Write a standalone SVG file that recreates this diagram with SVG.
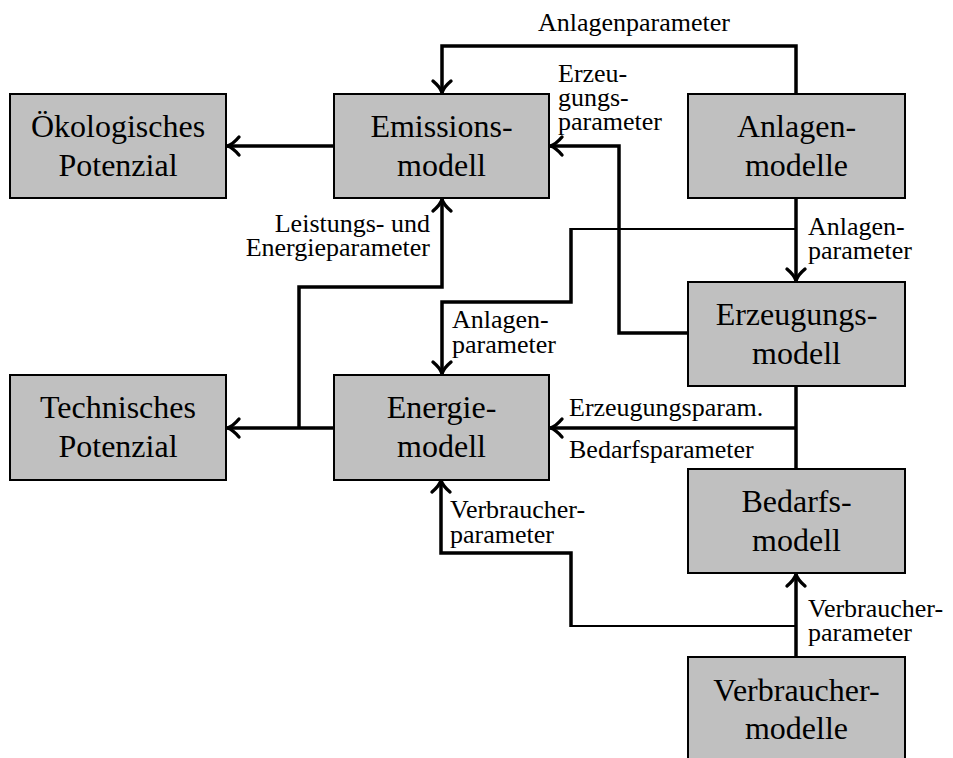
<svg xmlns="http://www.w3.org/2000/svg" width="953" height="758" viewBox="0 0 953 758">
  <defs>
    <style>
      .box { fill: #c0c0c0; stroke: #000; stroke-width: 2; }
      .bt { font-size: 32px; text-anchor: middle; fill: #000; }
      .lb { font-size: 26px; fill: #000; }
      .thick { fill: none; stroke: #000; stroke-width: 3.5; stroke-linejoin: miter; }
      .thin { fill: none; stroke: #000; stroke-width: 2.2; }
      .arrow { marker-end: url(#head); }
    </style>
    <!-- barbed arrowhead, tip at the path end -->
    <marker id="head" viewBox="-16 -12 20 24" refX="0" refY="0" markerWidth="20" markerHeight="24" markerUnits="userSpaceOnUse" orient="auto" overflow="visible">
      <path d="M-13,-9 C-8.5,-3.7 -4,-0.8 -1.5,0 C-4,0.8 -8.5,3.7 -13,9" fill="none" stroke="#000" stroke-width="3.4" stroke-linejoin="round" stroke-linecap="round"/>
    </marker>
  </defs>

  <!-- connectors -->
  <g id="connectors">
    <path class="thick arrow" d="M796,94 V46 H442 V94"/>
    <path class="thick arrow" d="M334,146 H226"/>
    <path class="thick arrow" d="M688,333 H619 V146 H549"/>
    <path class="thick arrow" d="M796,198 V282"/>
    <path class="thin" d="M796,229 H571"/>
    <path class="thick arrow" d="M571,228 V302 H442 V375"/>
    <path class="thick arrow" d="M299,428 V287 H442 V198"/>
    <path class="thick arrow" d="M334,428 H226"/>
    <path class="thick" d="M796,386 V469"/>
    <path class="thick arrow" d="M796,428 H549"/>
    <path class="thick arrow" d="M796,657 V573"/>
    <path class="thin" d="M796,626 H571"/>
    <path class="thick arrow" d="M571,627 V553 H441 V479"/>
  </g>

  <!-- connector labels -->
  <g id="labels">
    <text class="lb" font-family="Liberation Serif, serif" x="538" y="31">Anlagenparameter</text>
    <text class="lb" font-family="Liberation Serif, serif" x="558" y="82">Erzeu-</text>
    <text class="lb" font-family="Liberation Serif, serif" x="558" y="106">gungs-</text>
    <text class="lb" font-family="Liberation Serif, serif" x="558" y="130">parameter</text>
    <text class="lb" font-family="Liberation Serif, serif" x="430" y="232" text-anchor="end">Leistungs- und</text>
    <text class="lb" font-family="Liberation Serif, serif" x="430" y="256" text-anchor="end">Energieparameter</text>
    <text class="lb" font-family="Liberation Serif, serif" x="808" y="235">Anlagen-</text>
    <text class="lb" font-family="Liberation Serif, serif" x="808" y="259">parameter</text>
    <text class="lb" font-family="Liberation Serif, serif" x="452" y="328">Anlagen-</text>
    <text class="lb" font-family="Liberation Serif, serif" x="452" y="353">parameter</text>
    <text class="lb" font-family="Liberation Serif, serif" x="569" y="416">Erzeugungsparam.</text>
    <text class="lb" font-family="Liberation Serif, serif" x="569" y="458">Bedarfsparameter</text>
    <text class="lb" font-family="Liberation Serif, serif" x="450" y="518">Verbraucher-</text>
    <text class="lb" font-family="Liberation Serif, serif" x="450" y="543">parameter</text>
    <text class="lb" font-family="Liberation Serif, serif" x="808" y="617">Verbraucher-</text>
    <text class="lb" font-family="Liberation Serif, serif" x="808" y="641">parameter</text>
  </g>

  <g id="oekologisches-potenzial">
    <rect class="box" x="10" y="94" width="216" height="104"/>
    <text class="bt" font-family="Liberation Serif, serif" x="118" y="137">Ökologisches</text>
    <text class="bt" font-family="Liberation Serif, serif" x="118" y="176">Potenzial</text>
  </g>
  <g id="emissionsmodell">
    <rect class="box" x="334" y="94" width="215" height="104"/>
    <text class="bt" font-family="Liberation Serif, serif" x="441.5" y="137">Emissions-</text>
    <text class="bt" font-family="Liberation Serif, serif" x="441.5" y="176">modell</text>
  </g>
  <g id="anlagenmodelle">
    <rect class="box" x="688" y="94" width="217" height="104"/>
    <text class="bt" font-family="Liberation Serif, serif" x="796.5" y="137">Anlagen-</text>
    <text class="bt" font-family="Liberation Serif, serif" x="796.5" y="176">modelle</text>
  </g>
  <g id="erzeugungsmodell">
    <rect class="box" x="688" y="282" width="217" height="104"/>
    <text class="bt" font-family="Liberation Serif, serif" x="796.5" y="325">Erzeugungs-</text>
    <text class="bt" font-family="Liberation Serif, serif" x="796.5" y="364">modell</text>
  </g>
  <g id="technisches-potenzial">
    <rect class="box" x="10" y="375" width="216" height="105"/>
    <text class="bt" font-family="Liberation Serif, serif" x="118" y="418">Technisches</text>
    <text class="bt" font-family="Liberation Serif, serif" x="118" y="457">Potenzial</text>
  </g>
  <g id="energiemodell">
    <rect class="box" x="334" y="375" width="215" height="105"/>
    <text class="bt" font-family="Liberation Serif, serif" x="441.5" y="418">Energie-</text>
    <text class="bt" font-family="Liberation Serif, serif" x="441.5" y="457">modell</text>
  </g>
  <g id="bedarfsmodell">
    <rect class="box" x="688" y="469" width="217" height="104"/>
    <text class="bt" font-family="Liberation Serif, serif" x="796.5" y="512">Bedarfs-</text>
    <text class="bt" font-family="Liberation Serif, serif" x="796.5" y="551">modell</text>
  </g>
  <g id="verbrauchermodelle">
    <rect class="box" x="688" y="657" width="217" height="104"/>
    <text class="bt" font-family="Liberation Serif, serif" x="796.5" y="701">Verbraucher-</text>
    <text class="bt" font-family="Liberation Serif, serif" x="796.5" y="739">modelle</text>
  </g>
</svg>
